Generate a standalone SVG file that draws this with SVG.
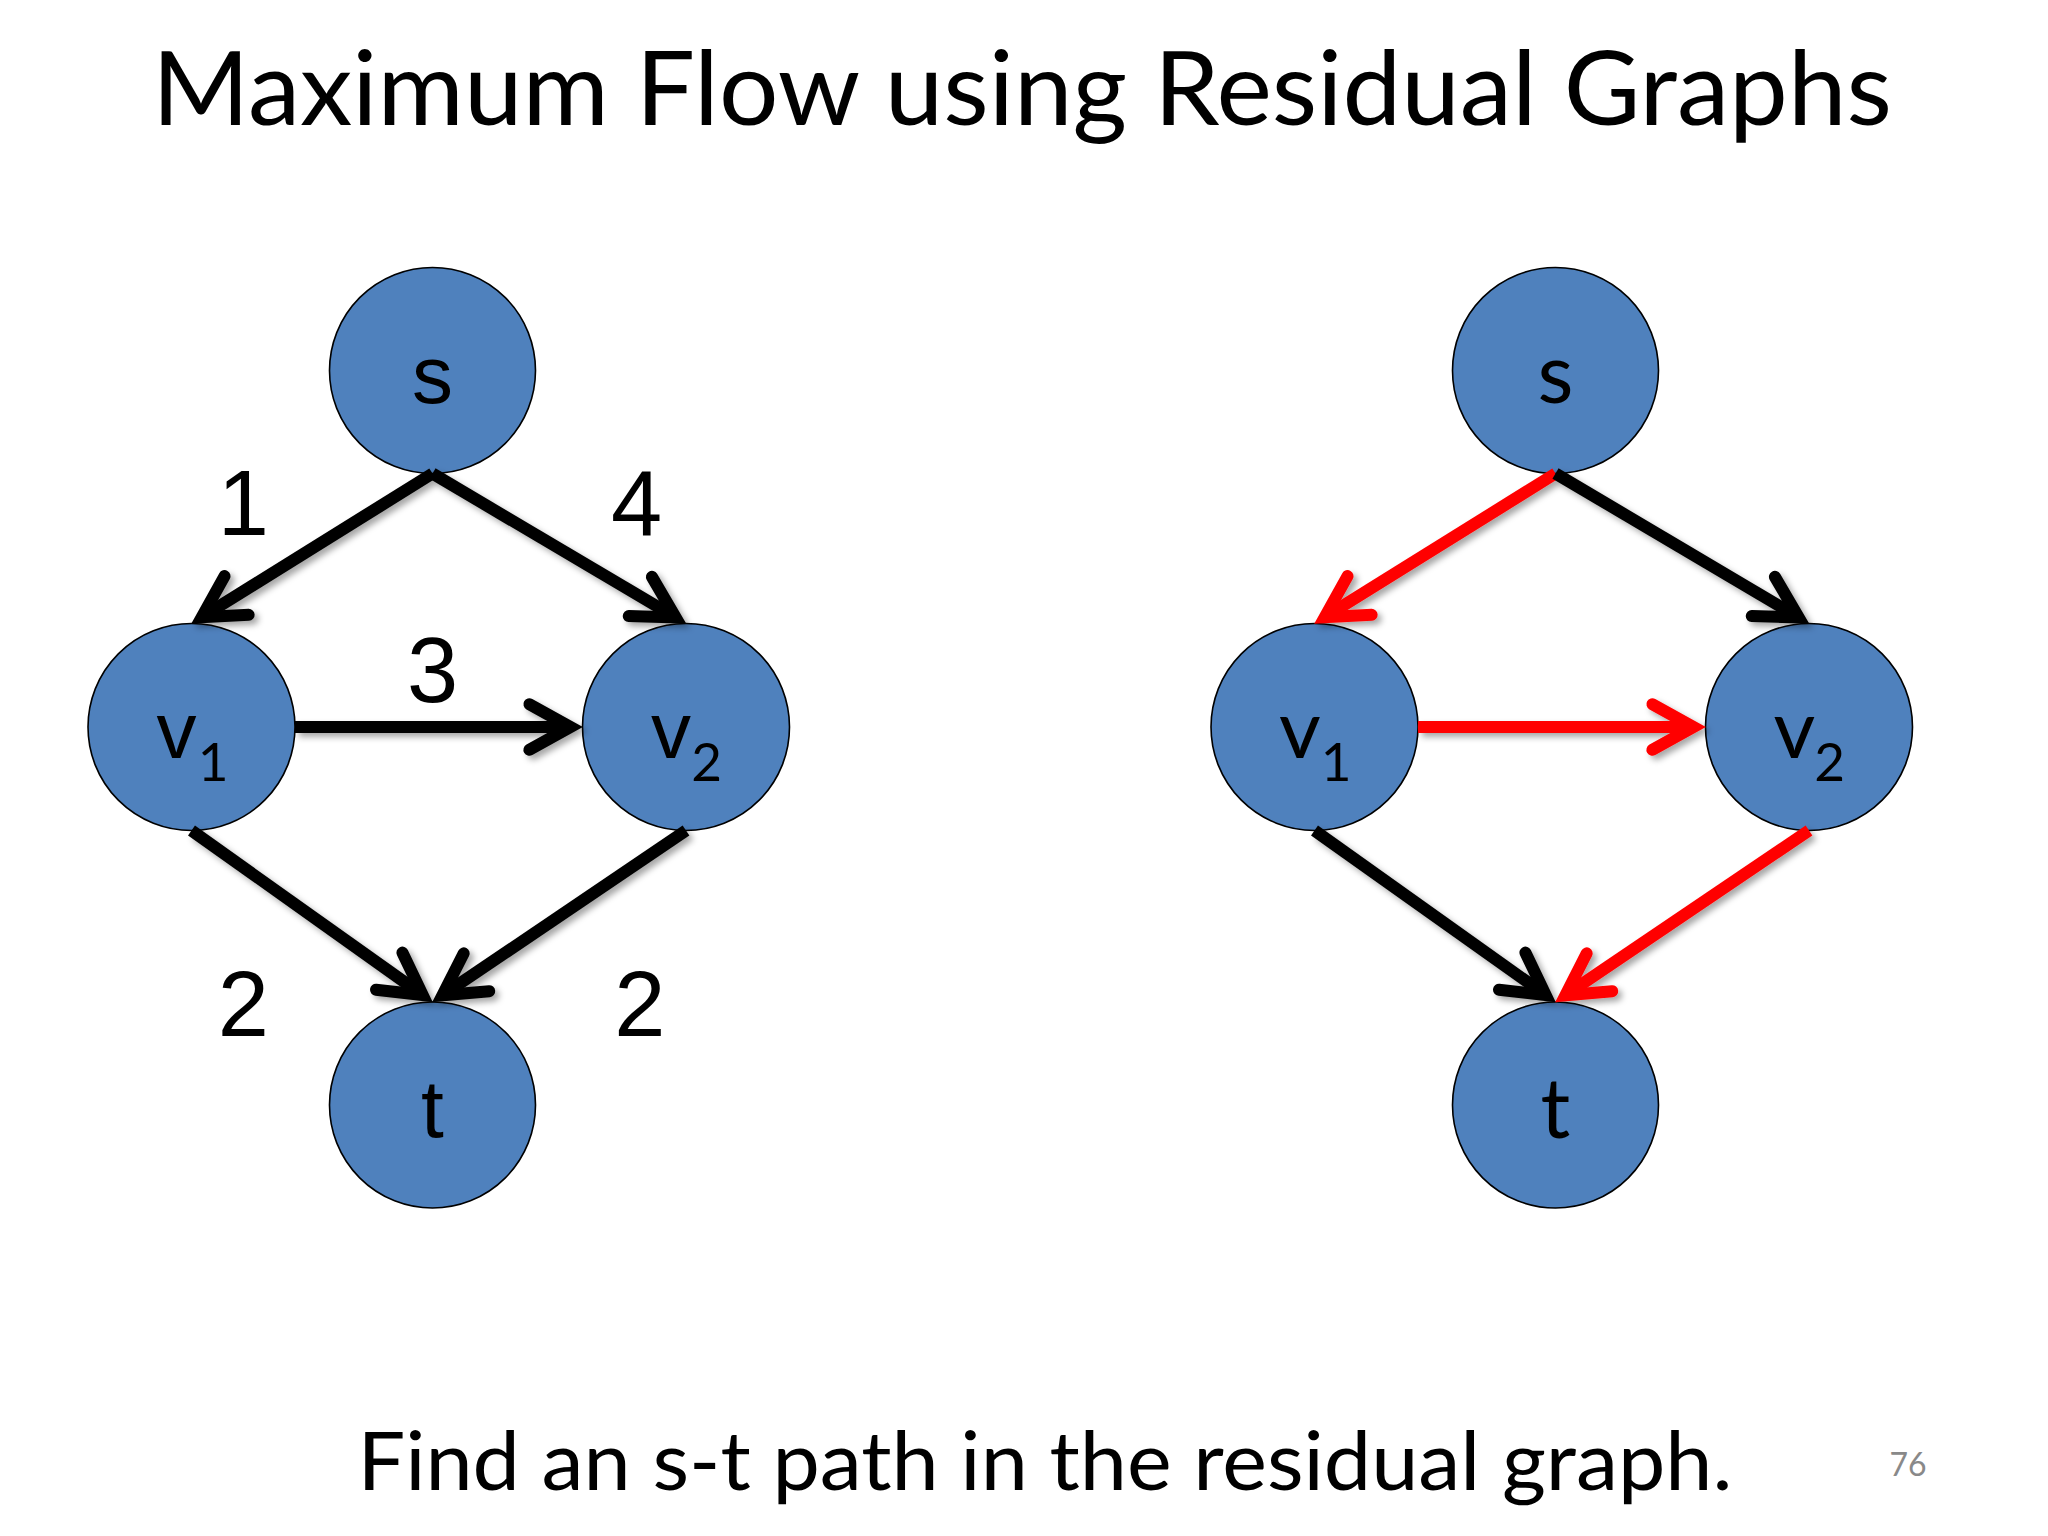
<svg xmlns="http://www.w3.org/2000/svg" width="2048" height="1536" viewBox="0 0 2048 1536">
<defs>
<style>
.node{fill:#4f81bd;stroke:#000;stroke-width:1.6}
.ar{font-family:"Liberation Sans",Arial,sans-serif;fill:#000;text-anchor:middle}
.cal{font-family:Lato,"Open Sans",sans-serif;fill:#000;text-anchor:middle}
.edge{fill:none;stroke-width:12;stroke-linecap:butt}
.blk{stroke:#000;marker-end:url(#ah-blk)}
.red{stroke:#ff0000;marker-end:url(#ah-red)}
.num{font-size:92px}
</style>
<marker id="ah-blk" markerUnits="userSpaceOnUse" markerWidth="10" markerHeight="10" refX="0" refY="0" orient="auto" overflow="visible">
<path d="M-41.1,-22.8 L0,0 L-41.1,22.8" fill="none" stroke="#000" stroke-width="12" stroke-linecap="round" stroke-linejoin="miter"/>
</marker>
<marker id="ah-red" markerUnits="userSpaceOnUse" markerWidth="10" markerHeight="10" refX="0" refY="0" orient="auto" overflow="visible">
<path d="M-41.1,-22.8 L0,0 L-41.1,22.8" fill="none" stroke="#ff0000" stroke-width="12" stroke-linecap="round" stroke-linejoin="miter"/>
</marker>
<filter id="sh" filterUnits="userSpaceOnUse" x="0" y="0" width="2048" height="1536">
<feDropShadow dx="4" dy="4" stdDeviation="3" flood-color="#000" flood-opacity="0.35"/>
</filter>
</defs>
<rect width="2048" height="1536" fill="#fff"/>
<text id="title" class="cal" x="1022" y="125" font-size="102" textLength="1740" lengthAdjust="spacingAndGlyphs">Maximum Flow using Residual Graphs</text>

<g id="left-nodes">
<g id="L-s"><circle class="node" cx="432.5" cy="370.5" r="103"/><text class="ar" x="432.5" y="403" font-size="82">s</text></g>
<g id="L-v1"><circle class="node" cx="191.5" cy="727" r="103.5"/><text class="ar" font-size="80"><tspan x="176.5" y="758">v</tspan><tspan class="cal" x="213" y="781" font-size="53">1</tspan></text></g>
<g id="L-v2"><circle class="node" cx="686" cy="727" r="103.5"/><text class="ar" font-size="80"><tspan x="671" y="758">v</tspan><tspan class="cal" x="706.5" y="781" font-size="53">2</tspan></text></g>
<g id="L-t"><circle class="node" cx="432.5" cy="1105" r="103"/><text class="ar" x="432.5" y="1137" font-size="82">t</text></g>
</g>

<g id="right-nodes">
<g id="R-s"><circle class="node" cx="1555.5" cy="370.5" r="103"/><text class="cal" x="1555.5" y="403" font-size="83">s</text></g>
<g id="R-v1"><circle class="node" cx="1314.5" cy="727" r="103.5"/><text class="cal" font-size="81"><tspan x="1300" y="758">v</tspan><tspan x="1336" y="781" font-size="53">1</tspan></text></g>
<g id="R-v2"><circle class="node" cx="1809" cy="727" r="103.5"/><text class="cal" font-size="81"><tspan x="1794.5" y="758">v</tspan><tspan x="1829.5" y="781" font-size="53">2</tspan></text></g>
<g id="R-t"><circle class="node" cx="1555.5" cy="1105" r="103"/><text class="cal" x="1555.5" y="1138" font-size="83">t</text></g>
</g>

<g id="connectors" filter="url(#sh)">
<path class="edge blk" d="M432.5,473.5 L201.7,617.2"/>
<path class="edge blk" d="M432.5,473.5 L675.7,617.4"/>
<path class="edge blk" d="M295,727 L570.5,727"/>
<path class="edge blk" d="M191.5,830.5 L422.7,995"/>
<path class="edge blk" d="M686,830.5 L442.4,995.3"/>
<path class="edge red" d="M1555.5,473.5 L1324.7,617.2"/>
<path class="edge blk" d="M1555.5,473.5 L1798.7,617.4"/>
<path class="edge red" d="M1418,727 L1693.5,727"/>
<path class="edge blk" d="M1314.5,830.5 L1545.7,995"/>
<path class="edge red" d="M1809,830.5 L1565.4,995.3"/>
</g>

<g id="edge-labels">
<text class="ar num" x="243.4" y="535">1</text>
<text class="ar num" x="636.7" y="535">4</text>
<text class="ar num" x="432.5" y="702">3</text>
<text class="ar num" x="243.3" y="1036">2</text>
<text class="ar num" x="639.8" y="1036">2</text>
</g>

<text id="caption" class="cal" x="1045" y="1490" font-size="82" textLength="1375" lengthAdjust="spacingAndGlyphs">Find an s-t path in the residual graph.</text>
<text id="page" class="cal" x="1908" y="1476" font-size="32" style="fill:#898989">76</text>
</svg>
